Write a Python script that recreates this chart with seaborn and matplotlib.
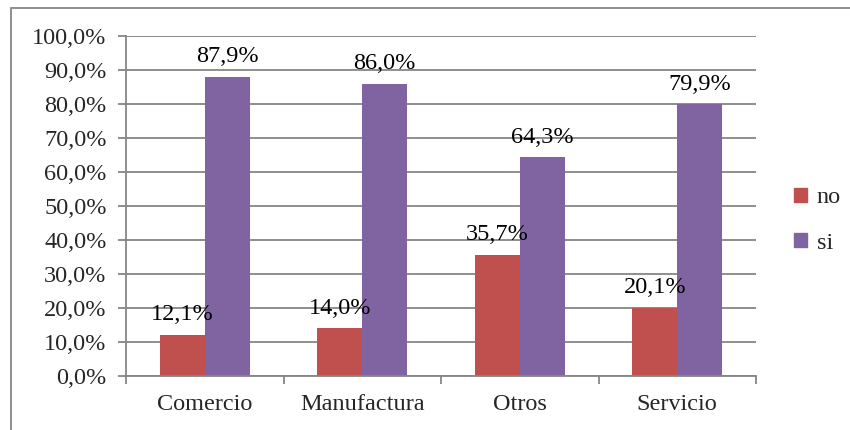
import pandas as pd
import matplotlib
matplotlib.use("Agg")
import matplotlib.pyplot as plt
import seaborn as sns
from matplotlib.patches import Rectangle
from matplotlib.ticker import FuncFormatter, FixedLocator

# ==================================
# DATA
# ==================================
categories = ["Comercio", "Manufactura", "Otros", "Servicio"]
no_values = [12.1, 14.0, 35.7, 20.1]
si_values = [87.9, 86.0, 64.3, 79.9]
series_names = ["no", "si"]

df = pd.DataFrame({
    "categoria": categories * 2,
    "respuesta": ["no"] * 4 + ["si"] * 4,
    "valor": no_values + si_values,
})

# ==================================
# STYLE
# ==================================
sns.set_style("white")
plt.rcParams["font.family"] = ["Liberation Serif", "DejaVu Serif"]
plt.rcParams["font.size"] = 17.5

palette = {"no": "#C0504D", "si": "#8064A2"}
grid_color = "#868686"
fs = 17.5

fig = plt.figure(figsize=(8.5, 4.3), dpi=100)
ax = fig.add_axes([126 / 850, 1 - 376 / 430, 630 / 850, 340 / 430])

sns.barplot(
    data=df, x="categoria", y="valor", hue="respuesta",
    order=categories, hue_order=series_names, palette=palette,
    width=0.571, saturation=1, ax=ax, legend=False,
    edgecolor="none", linewidth=0,
)

# labels over bars
for cont in ax.containers:
    ax.bar_label(cont, labels=[f"{v:.1f}%".replace(".", ",") for v in cont.datavalues],
                 padding=7, fontsize=fs, color="black")

# ==================================
# AXES
# ==================================
ax.set_ylim(0, 100)
ax.set_xlim(-0.5, 3.5)
ax.yaxis.set_major_locator(FixedLocator(range(0, 101, 10)))
ax.yaxis.set_major_formatter(FuncFormatter(lambda v, p: f"{v:.1f}%".replace(".", ",")))
ax.grid(axis="y", color=grid_color, linewidth=1.3)
ax.set_axisbelow(True)
ax.set_xlabel("")
ax.set_ylabel("")

for side in ["top", "right"]:
    ax.spines[side].set_visible(False)
for side in ["left", "bottom"]:
    ax.spines[side].set_color(grid_color)
    ax.spines[side].set_linewidth(1.3)

ax.tick_params(axis="y", length=6, width=1.3, color=grid_color, pad=8, labelsize=fs, left=True)
ax.tick_params(axis="x", which="major", length=0, pad=13, labelsize=fs)
ax.set_xticks([-0.5, 0.5, 1.5, 2.5, 3.5], minor=True)
ax.tick_params(axis="x", which="minor", length=6, width=1.3, color=grid_color, bottom=True)

# legend
handles = [Rectangle((0, 0), 1, 1, color=palette[s]) for s in series_names]
fig.legend(handles, series_names, loc="center left", bbox_to_anchor=(0.908, 0.487),
           frameon=False, handlelength=0.55, handleheight=0.55, handletextpad=0.4,
           labelspacing=1.0, fontsize=fs)

# chart border
fig.patches.append(Rectangle((11 / 850, -0.1), 1.2, 1 - 8 / 430 + 0.1,
                             transform=fig.transFigure, fill=False,
                             edgecolor=grid_color, linewidth=1.3))

fig.savefig("out.png", dpi=100)
